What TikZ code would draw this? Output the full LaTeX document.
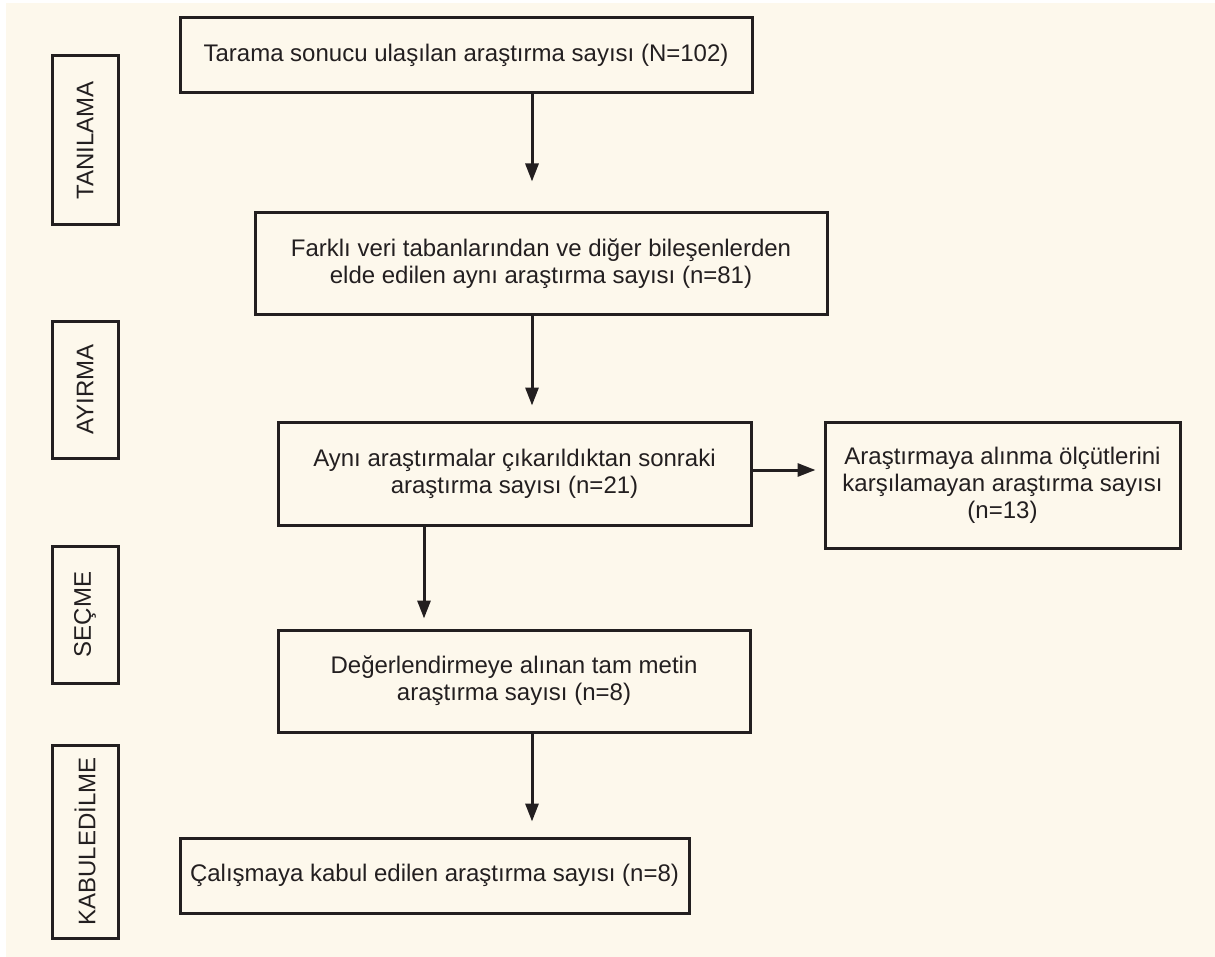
\documentclass[tikz,border=0pt]{standalone}
\usepackage{fontspec}
\setmainfont{Liberation Sans}
\usetikzlibrary{arrows.meta,positioning}
\definecolor{paper}{HTML}{FDF8EC}
\definecolor{ink}{HTML}{231F20}
\tikzset{
  box/.style={draw=ink,line width=1.5pt,align=center,inner sep=2pt,text=ink,
              font=\fontsize{12}{13.5}\selectfont},
  tag/.style={box,rotate=90,minimum height=33pt},
  arr/.style={-{Triangle[length=9pt,width=6.5pt]},draw=ink,line width=1.5pt}
}
\begin{document}
\begin{tikzpicture}[x=0.5pt,y=-0.5pt]
  \useasboundingbox (0,0) rectangle (1215,957);
  \fill[paper] (6,3) rectangle (1215,957);

  % stage tags on the left
  \node[tag,minimum width=84.5pt] (tanil) at (85,140.5) {TANILAMA};
  \node[tag,minimum width=68.5pt] (ayir) at (85,389.5) {AYIRMA};
  \node[tag,minimum width=68.5pt] (secme) at (85,614.5) {SEÇME};
  \node[tag,minimum width=96.5pt] (kabl) at (85,841.5) {KABULEDİLME};

  % flow boxes
  \node[box,minimum width=286pt,minimum height=37.5pt] (tara) at (466,55.5)
    {Tarama sonucu ulaşılan araştırma sayısı (N=102)};
  \node[box,minimum width=286pt,minimum height=50.5pt] (fark) at (541,263.5)
    {Farklı veri tabanlarından ve diğer bileşenlerden\\elde edilen aynı araştırma sayısı (n=81)};
  \node[box,minimum width=236.5pt,minimum height=51.5pt] (ayni) at (514.5,473.5)
    {Aynı araştırmalar çıkarıldıktan sonraki\\araştırma sayısı (n=21)};
  \node[box,minimum width=177.5pt,minimum height=63pt] (olcu) at (1002.5,485)
    {Araştırmaya alınma ölçütlerini\\karşılamayan araştırma sayısı\\(n=13)};
  \node[box,minimum width=236pt,minimum height=51pt] (degr) at (514,681)
    {Değerlendirmeye alınan tam metin\\araştırma sayısı (n=8)};
  \node[box,minimum width=254.5pt,minimum height=37.5pt] (kabul) at (434.5,875.5)
    {Çalışmaya kabul edilen araştırma sayısı (n=8)};

  % arrow lanes
  \coordinate (colA) at (532,0);
  \coordinate (colB) at (424,0);
  \coordinate (rowC) at (0,470);

  \draw[arr,shorten >=15pt] (tara.south -| colA) -- (fark.north -| colA);
  \draw[arr,shorten >=7.5pt] (fark.south -| colA) -- (ayni.north -| colA);
  \draw[arr,shorten >=4pt] (ayni.east |- rowC) -- (olcu.west |- rowC);
  \draw[arr,shorten >=5pt] (ayni.south -| colB) -- (degr.north -| colB);
  \draw[arr,shorten >=7.5pt] (degr.south -| colA) -- (kabul.north -| colA);
\end{tikzpicture}
\end{document}
